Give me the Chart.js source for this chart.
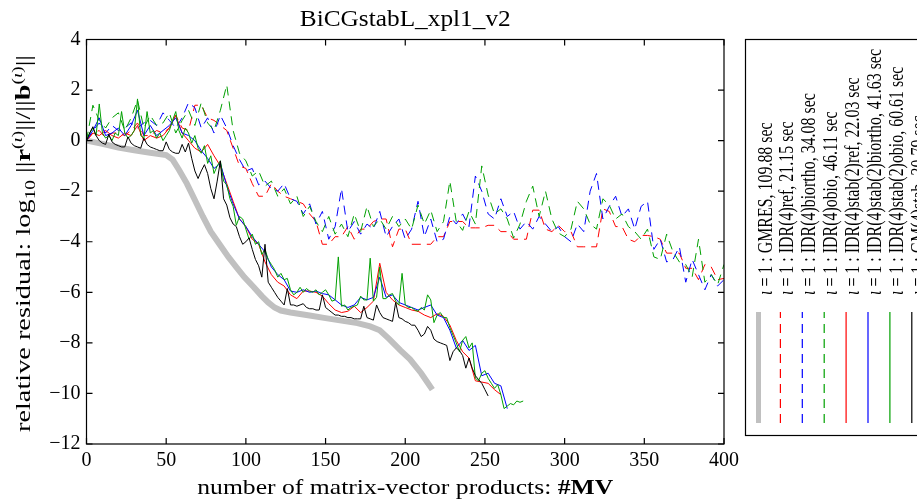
<!DOCTYPE html>
<html>
<head>
<meta charset="utf-8">
<script src="https://cdn.jsdelivr.net/npm/chart.js@4.4.1/dist/chart.umd.min.js"></script>
<style>
  html, body { margin: 0; padding: 0; background: #fff; }
  canvas { display: block; }
</style>
</head>
<body>
<canvas id="resChart" width="917" height="502"></canvas>
<script>
// sampling grids (number of MVs)
const mvCoarse = [0, 4, 8, 12, 16, 20, 24, 28, 32, 36, 40, 44, 48, 52, 56, 60, 64, 68, 72, 76,
  80, 84, 88, 92, 96, 100, 104, 108, 112, 116, 120, 124, 128, 132, 136, 140, 144, 148, 152, 156,
  160, 164, 168, 172, 176, 180, 184, 188, 192, 196, 200, 204, 208, 212, 216, 220, 224, 228, 232, 236,
  240, 244, 248, 252, 256, 260, 264, 268, 272, 276, 280, 284, 288, 292, 296, 300, 304, 308, 312, 316,
  320, 324, 328, 332, 336, 340, 344, 348, 352, 356, 360, 364, 368, 372, 376, 380, 384, 388, 392, 396, 400];
const mvFine = [0, 2, 4, 6, 8, 10, 12, 14, 16, 18, 20, 22, 24, 26, 28, 30, 32, 34, 36, 38,
  40, 42, 44, 46, 48, 50, 52, 54, 56, 58, 60, 62, 64, 66, 68, 70, 72, 74, 76, 78,
  80, 82, 84, 86, 88, 90, 92, 94, 96, 98, 100, 102, 104, 106, 108, 110, 112, 114, 116, 118,
  120, 122, 124, 126, 128, 130, 132, 134, 136, 138, 140, 142, 144, 146, 148, 150, 152, 154, 156, 158,
  160, 162, 164, 166, 168, 170, 172, 174, 176, 178, 180, 182, 184, 186, 188, 190, 192, 194, 196, 198,
  200, 202, 204, 206, 208, 210, 212, 214, 216, 218, 220, 222, 224, 226, 228, 230, 232, 234, 236, 238,
  240, 242, 244, 246, 248, 250, 252, 254, 256, 258, 260, 262, 264, 266, 268, 270, 272, 274];
const mvGmres = [0, 10, 20, 30, 40, 50, 54, 58, 63, 68, 73, 78, 84, 89, 94, 99, 105, 110, 114, 118,
  122, 128, 140, 150, 160, 170, 178, 184, 190, 197, 203, 210, 217];

// log10 of relative residual
const resGmres = [0.0, -0.13, -0.27, -0.38, -0.48, -0.57, -0.75, -1.15, -1.7, -2.35, -3.0, -3.6, -4.15, -4.6, -5.0, -5.4, -5.8, -6.15, -6.4, -6.6,
  -6.72, -6.8, -6.92, -7.02, -7.12, -7.22, -7.35, -7.5, -7.85, -8.3, -8.65, -9.2, -9.85];

const resIdrRef = [0.0, 0.3, 0.4, 0.1, 0.3, 0.3, 0.2, 0.4, 0.7, 0.2,
  0.2, 0.4, 0.3, 0.5, 1.0, 0.5, 0.4, 1.4, 1.4, 0.9,
  0.8, 0.6, 0.4, -0.3, -1.0, -1.1, -1.7, -2.2, -2.2, -1.7,
  -2.0, -2.2, -2.3, -2.4, -2.5, -2.9, -3.2, -4.1, -4.1, -3.8,
  -3.8, -3.4, -3.9, -3.5, -3.5, -3.2, -3.1, -3.1, -4.2, -3.5,
  -3.5, -4.1, -4.1, -4.1, -4.1, -3.8, -3.8, -3.2, -3.2, -3.2,
  -3.45, -3.45, -3.45, -3.35, -3.35, -3.6, -3.6, -3.9, -3.9, -3.9,
  -2.75, -2.75, -3.5, -3.6, -3.35, -3.6, -3.6, -4.2, -4.2, -4.2,
  -4.2, -2.7, -2.8, -3.4, -3.4, -3.9, -4.0, -3.75, -3.75, -3.8,
  -3.9, -4.45, -4.45, -4.45, -5.05, -5.05, -5.5, -4.9, -5.0, -5.5, -5.45];

const resIdrBiortho = [0.0, 0.4, 0.7, 0.3, 0.6, 0.4, 0.5, 0.7, 0.5, 0.7,
  0.8, 0.6, 1.1, 0.8, 0.5, 0.9, 1.5, 1.3, 0.5, 0.9,
  0.3, 1.0, 0.5, -0.2, -0.75, -1.2, -1.1, -1.75, -1.6, -1.9,
  -2.0, -1.7, -2.3, -2.4, -2.9, -2.5, -3.3, -2.8, -3.9, -3.4,
  -1.9, -3.6, -3.2, -3.7, -3.3, -3.5, -2.8, -3.8, -3.4, -3.1,
  -3.9, -3.5, -2.4, -3.8, -3.1, -4.0, -3.9, -3.0, -3.3, -2.9,
  -3.4, -1.4, -2.0, -2.9, -3.1, -2.3, -3.0, -2.8, -3.5, -3.2,
  -3.5, -3.0, -3.3, -3.6, -3.4, -3.8, -4.0, -3.3, -3.6, -2.0,
  -1.3, -3.1, -2.6, -2.2, -3.0, -2.7, -3.5, -2.6, -2.4, -4.3,
  -3.9, -4.8, -4.7, -4.2, -5.6, -4.7, -5.3, -5.9, -5.3, -5.75, -5.5];

const resIdrObio = [0.0, 1.4, 0.8, 0.5, 0.9, 1.1, 0.4, 0.9, 1.6, 0.5,
  1.0, 0.6, 0.7, 1.1, 0.3, 0.8, 1.2, 0.6, 1.5, 0.7,
  0.4, 1.2, 2.2, 0.4, -0.5, -0.8, -1.4, -1.2, -1.8, -1.6,
  -2.2, -1.9, -2.5, -2.2, -3.0, -2.6, -3.2, -3.6, -3.0, -3.7,
  -3.3, -3.8, -2.9, -3.6, -2.6, -3.4, -3.1, -3.5, -3.0, -3.4,
  -3.1, -3.5, -2.55, -3.3, -2.75, -3.6, -3.2, -1.6, -3.2, -3.55,
  -2.8, -3.3, -1.0, -2.15, -2.9, -2.7, -3.1, -3.85, -3.3, -2.4,
  -1.8, -3.0, -2.0, -3.1, -3.65, -3.8, -3.5, -2.4, -2.7, -3.3,
  -3.5, -2.3, -2.55, -3.1, -2.9, -3.4, -3.6, -3.9, -3.5, -4.6,
  -4.7, -3.7, -4.4, -4.8, -4.9, -5.4, -3.9, -5.6, -5.3, -5.7, -4.9];

const resStabRef = [0.0, 0.3, 0.2, 0.4, 0.2, 0.1, 0.3, 0.2, 0.6, 0.0,
  0.2, 0.1, 0.2, 0.5, 1.0, 0.3, 0.0, -0.3, -0.45, -0.15,
  -0.6, -1.0, -1.7, -2.4, -3.1, -3.4, -3.9, -4.1, -4.8, -5.3,
  -5.6, -5.75, -6.1, -6.25, -5.95, -5.95, -6.0, -6.15, -6.45, -6.7,
  -6.8, -6.75, -6.55, -6.8, -6.6, -6.35, -4.85, -6.0, -6.3, -6.5,
  -6.6, -6.7, -6.75, -6.9, -7.0, -6.85, -6.95, -7.3, -7.9, -8.35,
  -8.6, -9.5, -9.55, -9.6, -9.85, -10.05];

const resStabBiortho = [0.0, 0.4, 0.9, 0.2, 0.3, 0.5, 0.2, 0.6, 1.2, 0.2,
  0.6, 0.2, 0.4, 0.6, 0.9, 0.3, 0.2, 0.0, -0.4, -0.7,
  -1.1, -0.9, -1.8, -2.5, -3.1, -3.4, -3.8, -4.1, -4.4, -5.0,
  -5.3, -5.5, -5.95, -6.0, -5.9, -6.0, -5.95, -6.05, -6.1, -6.3,
  -6.5, -6.6, -6.5, -6.2, -6.3, -6.2, -5.4, -6.2, -6.1, -6.4,
  -6.5, -6.6, -6.7, -6.6, -6.5, -6.9, -7.0, -7.5, -8.2, -7.9,
  -8.3, -8.1, -9.3, -9.2, -9.6, -9.7, -10.6];

const resStabObio = [0.0, 0.3, 0.5, 0.2, 1.45, 0.3, 0.1, 0.2, 0.0, 0.3,
  0.2, 1.15, 0.3, 0.1, 0.2, 0.4, 1.65, 0.2, 0.1, 1.15,
  0.3, 0.4, 0.1, 0.3, 0.0, 0.2, 0.4, 0.8, 1.15, 0.4,
  0.1, 0.5, 0.3, -0.1, 0.2, -0.3, -0.5, -0.2, -0.9, -0.6,
  -1.3, -1.0, -0.8, -1.6, -1.75, -2.3, -2.6, -3.35, -3.0, -3.1,
  -3.5, -3.9, -3.7, -4.1, -4.0, -4.5, -4.3, -4.7, -4.9, -5.1,
  -5.4, -5.25, -5.5, -5.45, -5.9, -6.1, -6.0, -5.8, -6.0, -5.85,
  -5.95, -6.0, -5.9, -6.1, -6.0, -5.9, -6.1, -6.35, -6.3, -4.6,
  -6.55, -6.5, -6.7, -6.6, -6.55, -6.5, -6.15, -6.3, -6.3, -4.65,
  -6.35, -6.2, -5.0, -6.25, -6.25, -6.1, -6.05, -6.35, -6.5, -5.25,
  -6.5, -6.6, -6.6, -6.7, -6.75, -6.6, -6.7, -6.1, -6.3, -7.2,
  -6.9, -6.8, -7.0, -7.0, -7.4, -7.7, -8.0, -8.35, -7.9, -7.75,
  -8.2, -8.0, -9.4, -9.5, -9.2, -9.1, -9.4, -9.6, -9.8, -9.65,
  -10.05, -10.6, -10.5, -10.4, -10.45, -10.3, -10.35, -10.3];

const resGmStab = [0.0, 0.3, 0.55, 0.2, 0.0, -0.1, -0.15, 0.25, -0.05, -0.15,
  -0.2, -0.25, -0.25, 0.15, -0.1, -0.2, -0.25, -0.3, 0.1, -0.15,
  -0.25, -0.3, -0.35, -0.4, -0.4, -0.05, -0.35, -0.45, -0.5, -0.5,
  -0.15, -0.45, -0.1, -0.7, -1.2, -1.5, -1.2, -0.95, -1.3, -1.9,
  -2.3, -1.6, -0.8, -2.3, -2.55, -3.05, -3.3, -3.4, -3.8, -4.1,
  -4.0, -3.85, -4.3, -4.7, -4.95, -5.4, -4.1, -5.6, -5.8, -6.0,
  -6.2, -6.35, -6.5, -5.85, -6.5, -6.5, -6.55, -6.5, -6.45, -6.6,
  -6.65, -6.65, -6.7, -6.7, -6.1, -6.6, -6.7, -6.8, -6.9, -6.9,
  -6.95, -6.95, -7.0, -7.0, -7.05, -7.05, -7.05, -6.55, -7.0, -7.05,
  -7.1, -6.5, -6.8, -7.0, -7.05, -7.1, -7.15, -6.4, -7.0, -7.05,
  -7.15, -7.2, -7.3, -7.3, -7.5, -7.75, -7.65, -7.35, -7.5, -7.85,
  -7.95, -8.0, -8.05, -8.1, -8.7, -8.35, -8.2, -8.3, -8.5, -9.0,
  -8.6, -9.0, -9.3, -9.45, -9.6, -9.85, -10.1];

const legendLabels = [
  ' = 1 : GMRES, 109.88 sec',
  ' = 1 : IDR(4)ref, 21.15 sec',
  ' = 1 : IDR(4)biortho, 34.08 sec',
  ' = 1 : IDR(4)obio, 46.11 sec',
  ' = 1 : IDR(4)stab(2)ref, 22.03 sec',
  ' = 1 : IDR(4)stab(2)biortho, 41.63 sec',
  ' = 1 : IDR(4)stab(2)obio, 60.61 sec',
  ' = 1 : GM(4)stab, 30.79 sec'
];

const SERIF = "'Liberation Serif', 'DejaVu Serif', serif";
const RED = '#ff0000', BLUE = '#0000ff', GREEN = '#00a000', GRAY = '#c0c0c0';
const DASH = [9, 6];

const toPoints = (xs, ys) => ys.map((y, i) => ({ x: xs[i], y }));

function series(data, color, width, dash, order) {
  return {
    data, borderColor: color, backgroundColor: color, borderWidth: width,
    borderDash: dash, pointRadius: 0, tension: 0, fill: false, order
  };
}

// draws a run of text pieces [text, font, dy], optionally stretched along the baseline
function richText(ctx, parts, x, y, angle, opts) {
  ctx.save();
  ctx.translate(x, y);
  ctx.rotate(angle);
  let total = 0;
  parts.forEach(p => { ctx.font = p[1]; total += ctx.measureText(p[0]).width; });
  const k = opts.width ? opts.width / total : (opts.scale || 1);
  ctx.scale(k, 1);
  let cx = opts.align === 'center' ? -total / 2 : 0;
  ctx.textBaseline = 'alphabetic';
  ctx.textAlign = 'left';
  ctx.fillStyle = '#000';
  parts.forEach(p => {
    ctx.font = p[1];
    ctx.fillText(p[0], cx, p[2] || 0);
    cx += ctx.measureText(p[0]).width;
  });
  ctx.restore();
  return total;
}

// box around the axes with inward ticks on all four sides
const axesFrame = {
  id: 'axesFrame',
  afterDatasetsDraw(chart) {
    const { ctx, chartArea: a, scales } = chart;
    ctx.save();
    ctx.strokeStyle = '#000';
    ctx.lineWidth = 1.2;
    ctx.strokeRect(a.left, a.top, a.right - a.left, a.bottom - a.top);
    const len = 6;
    ctx.beginPath();
    scales.x.ticks.forEach(t => {
      const px = scales.x.getPixelForValue(t.value);
      ctx.moveTo(px, a.bottom); ctx.lineTo(px, a.bottom - len);
      ctx.moveTo(px, a.top); ctx.lineTo(px, a.top + len);
    });
    scales.y.ticks.forEach(t => {
      const py = scales.y.getPixelForValue(t.value);
      ctx.moveTo(a.left, py); ctx.lineTo(a.left + len, py);
      ctx.moveTo(a.right, py); ctx.lineTo(a.right - len, py);
    });
    ctx.stroke();
    ctx.restore();
  }
};

// title, axis titles with sub/superscripts
const axisTexts = {
  id: 'axisTexts',
  afterDraw(chart) {
    const { ctx, chartArea: a } = chart;
    const F = '22px ' + SERIF, Fb = 'bold 22px ' + SERIF;
    const Fs = '15px ' + SERIF, Fsi = 'italic 15px ' + SERIF;
    const mid = (a.left + a.right) / 2;
    richText(ctx, [['BiCGstabL_xpl1_v2', '23px ' + SERIF]], mid, 26, 0, { width: 211, align: 'center' });
    richText(ctx, [['number of matrix-vector products: ', F], ['#MV', Fb]], mid, 494, 0, { width: 416, align: 'center' });
    richText(ctx, [
      ['relative residual: log', F], ['10', Fs, 5], [' ||', F], ['r', Fb],
      ['(', Fs, -8], ['\u03b9', Fsi, -8], [')', Fs, -8], ['||/||', F], ['b', Fb],
      ['(', Fs, -8], ['\u03b9', Fsi, -8], [')', Fs, -8], ['||', F]
    ], 30, 243.5, -Math.PI / 2, { width: 377, align: 'center' });
  }
};

// vertical legend to the right of the axes
const sideLegend = {
  id: 'sideLegend',
  afterDraw(chart) {
    const { ctx } = chart;
    const sets = chart.data.datasets;
    const F = '20px ' + SERIF, Fi = 'italic 20px ' + SERIF;
    ctx.save();
    ctx.strokeStyle = '#000';
    ctx.lineWidth = 1.2;
    ctx.strokeRect(745.5, 39.5, 220, 396);
    // one stretch factor for every entry, taken from the longest one
    ctx.font = Fi;
    let w = ctx.measureText('\u03b9').width;
    ctx.font = F;
    w += ctx.measureText(legendLabels[5]).width;
    const k = 246 / w;
    sets.forEach((ds, i) => {
      const cx = 758.5 + i * 21.9;
      ctx.save();
      ctx.strokeStyle = ds.borderColor;
      ctx.lineWidth = ds.borderWidth === 6 ? 5 : 1.2;
      ctx.setLineDash(ds.borderDash || []);
      ctx.beginPath();
      ctx.moveTo(cx, 423);
      ctx.lineTo(cx, 312);
      ctx.stroke();
      ctx.restore();
      richText(ctx, [['\u03b9', Fi], [legendLabels[i], F]], cx + 13, 295, -Math.PI / 2, { scale: k });
    });
    ctx.restore();
  }
};

const ctx = document.getElementById('resChart').getContext('2d');

new Chart(ctx, {
  type: 'line',
  data: {
    datasets: [
      series(toPoints(mvGmres, resGmres), GRAY, 6, [], 8),
      series(toPoints(mvCoarse, resIdrRef), RED, 1, DASH, 7),
      series(toPoints(mvCoarse, resIdrBiortho), BLUE, 1, DASH, 6),
      series(toPoints(mvCoarse, resIdrObio), GREEN, 1, DASH, 5),
      series(toPoints(mvCoarse, resStabRef), RED, 1, [], 4),
      series(toPoints(mvCoarse, resStabBiortho), BLUE, 1, [], 3),
      series(toPoints(mvFine, resStabObio), GREEN, 1, [], 2),
      series(toPoints(mvFine, resGmStab), '#000000', 1, [], 1)
    ]
  },
  options: {
    responsive: false,
    animation: false,
    events: [],
    layout: { padding: { top: 39.5, right: 193, bottom: 0, left: 0 } },
    scales: {
      x: {
        type: 'linear', min: 0, max: 400,
        grid: { display: false, drawTicks: false },
        border: { display: false },
        ticks: {
          stepSize: 50, maxRotation: 0, color: '#000', padding: 5,
          font: { family: SERIF, size: 20 }
        },
        afterFit(scale) { scale.height = 58; }
      },
      y: {
        type: 'linear', min: -12, max: 4,
        grid: { display: false, drawTicks: false },
        border: { display: false },
        ticks: {
          stepSize: 2, color: '#000', padding: 6,
          font: { family: SERIF, size: 20 },
          callback: v => (v < 0 ? '\u2212' + Math.abs(v) : String(v))
        },
        afterFit(scale) { scale.width = 86.5; }
      }
    },
    plugins: {
      legend: { display: false },
      tooltip: { enabled: false },
      title: { display: false }
    }
  },
  plugins: [axesFrame, axisTexts, sideLegend]
});
</script>
</body>
</html>
